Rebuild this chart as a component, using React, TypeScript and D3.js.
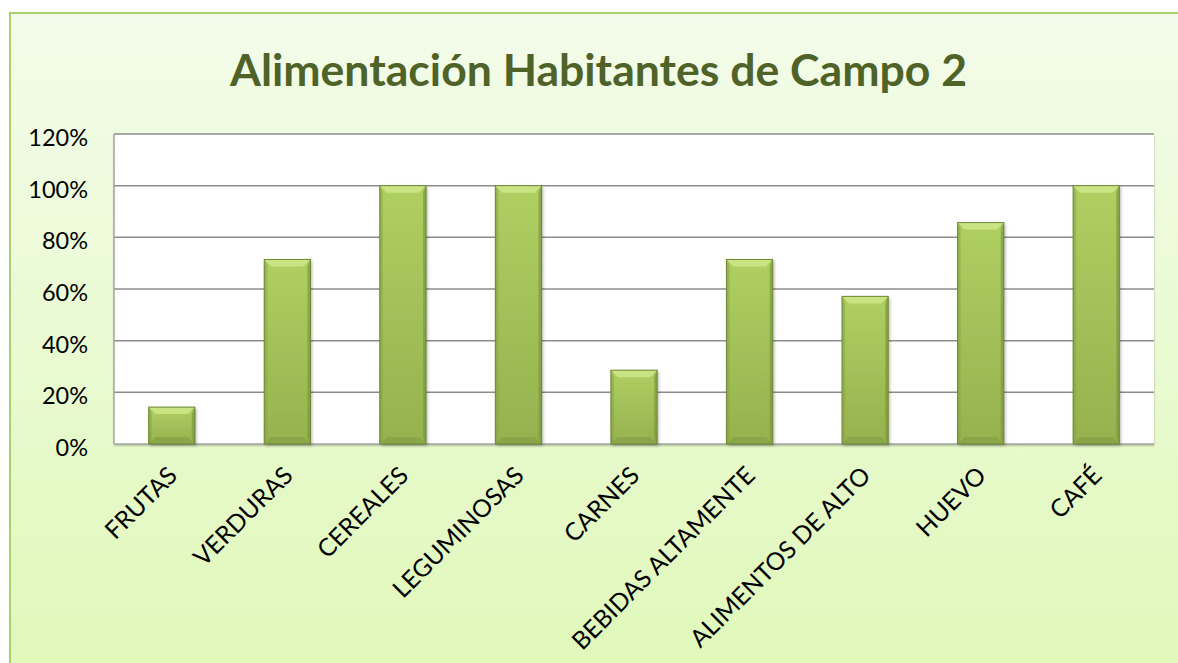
import React from "react";
import * as d3 from "d3";

const categories = [
  "FRUTAS",
  "VERDURAS",
  "CEREALES",
  "LEGUMINOSAS",
  "CARNES",
  "BEBIDAS ALTAMENTE",
  "ALIMENTOS DE ALTO",
  "HUEVO",
  "CAFÉ",
];
const values = [0.1429, 0.7143, 1.0, 1.0, 0.2857, 0.7143, 0.5714, 0.8571, 1.0];
const yTicks = [0, 0.2, 0.4, 0.6, 0.8, 1.0, 1.2];
const title = "Alimentación Habitantes de Campo 2";

const W = 1178;
const H = 663;
const plot = { left: 114, right: 1154, top: 134, bottom: 444 };
const FONT = "Lato, 'Open Sans', sans-serif";

export default function App() {
  const x = d3
    .scaleBand<string>()
    .domain(categories)
    .range([plot.left, plot.right])
    .paddingInner(0.6)
    .paddingOuter(0.3);
  const y = d3.scaleLinear().domain([0, 1.2]).range([plot.bottom, plot.top]);
  const fmt = d3.format(".0%");
  const bw = x.bandwidth();

  return (
    <svg
      width={W}
      height={H}
      style={{ position: "absolute", left: 0, top: 0, display: "block" }}
    >
      <defs>
        <linearGradient id="bg" x1="0" y1="0" x2="0" y2="1">
          <stop offset="0%" stopColor="#f3fcea" />
          <stop offset="100%" stopColor="#dff8b8" />
        </linearGradient>
        <linearGradient id="barBody" x1="0" y1="0" x2="0" y2="1">
          <stop offset="0%" stopColor="#b3d466" />
          <stop offset="100%" stopColor="#98b550" />
        </linearGradient>
        <linearGradient id="barSide" x1="0" y1="0" x2="1" y2="0">
          <stop offset="0%" stopColor="#5d7625" stopOpacity="0.35" />
          <stop offset="8%" stopColor="#5d7625" stopOpacity="0.05" />
          <stop offset="92%" stopColor="#5d7625" stopOpacity="0.05" />
          <stop offset="100%" stopColor="#5d7625" stopOpacity="0.35" />
        </linearGradient>
        <filter id="shadow" x="-20%" y="-20%" width="140%" height="140%">
          <feDropShadow dx="1.5" dy="1.5" stdDeviation="1.5" floodColor="#000" floodOpacity="0.3" />
        </filter>
        <filter id="pshadow" x="-5%" y="-5%" width="110%" height="110%">
          <feDropShadow dx="0" dy="1.5" stdDeviation="1.2" floodColor="#000" floodOpacity="0.3" />
        </filter>
      </defs>

      {/* chart background and frame */}
      <rect x={0} y={0} width={W} height={H} fill="#ffffff" />
      <rect x={10} y={13} width={W + 20} height={H + 20} fill="url(#bg)" stroke="#a9cf6e" strokeWidth={2} />

      {/* title */}
      <text
        x={598.5}
        y={86}
        textAnchor="middle"
        fontFamily={FONT}
        fontWeight={700}
        fontSize={44}
        fill="#4f6228"
        textLength={737}
        lengthAdjust="spacingAndGlyphs"
      >
        {title}
      </text>

      {/* plot area */}
      <rect
        x={plot.left}
        y={plot.top}
        width={plot.right - plot.left}
        height={plot.bottom - plot.top}
        fill="#ffffff"
        filter="url(#pshadow)"
      />

      {/* gridlines */}
      {yTicks.map((t) => (
        <line
          key={"g" + t}
          x1={plot.left}
          x2={plot.right}
          y1={y(t)}
          y2={y(t)}
          stroke={t === 0 ? "#a6a6a6" : "#8c8c8c"}
          strokeWidth={1.5}
        />
      ))}
      <line
        x1={plot.left}
        x2={plot.left}
        y1={plot.top}
        y2={plot.bottom}
        stroke="#a6a6a6"
        strokeWidth={1.5}
      />

      {/* y tick labels */}
      {yTicks.map((t) => (
        <text
          key={"t" + t}
          x={88}
          y={y(t) + 12}
          textAnchor="end"
          fontFamily={FONT}
          fontSize={23.5}
          fill="#000"
        >
          {fmt(t)}
        </text>
      ))}

      {/* bars */}
      {categories.map((c, i) => {
        const bx = x(c)!;
        const by = y(values[i]);
        const bh = plot.bottom - by;
        const b = Math.min(7, bh / 2);
        const s = 3;
        return (
          <g key={c}>
            <rect x={bx} y={by} width={bw} height={bh} fill="url(#barBody)" filter="url(#shadow)" />
            <rect x={bx} y={by} width={bw} height={bh} fill="url(#barSide)" />
            <polygon
              points={`${bx},${by} ${bx + bw},${by} ${bx + bw - b},${by + b} ${bx + b},${by + b}`}
              fill="#cbe585"
              opacity={0.95}
            />
            <polygon
              points={`${bx},${by} ${bx + s},${by + b} ${bx + s},${by + bh - b} ${bx},${by + bh}`}
              fill="#8fab48"
              opacity={0.5}
            />
            <polygon
              points={`${bx + bw},${by} ${bx + bw - s},${by + b} ${bx + bw - s},${by + bh - b} ${bx + bw},${by + bh}`}
              fill="#7f9a3e"
              opacity={0.6}
            />
            <polygon
              points={`${bx},${by + bh} ${bx + bw},${by + bh} ${bx + bw - b},${by + bh - b} ${bx + b},${by + bh - b}`}
              fill="#86a245"
              opacity={0.75}
            />
            <rect x={bx} y={by} width={bw} height={bh} fill="none" stroke="#6f8a36" strokeWidth={1} />
          </g>
        );
      })}

      {/* x labels */}
      {categories.map((c) => {
        const cx = x(c)! + bw / 2 + 7;
        const cy = 477;
        return (
          <text
            key={"l" + c}
            x={cx}
            y={cy}
            transform={`rotate(-45 ${cx} ${cy})`}
            textAnchor="end"
            fontFamily={FONT}
            fontSize={24.5}
            fill="#000"
          >
            {c}
          </text>
        );
      })}
    </svg>
  );
}
